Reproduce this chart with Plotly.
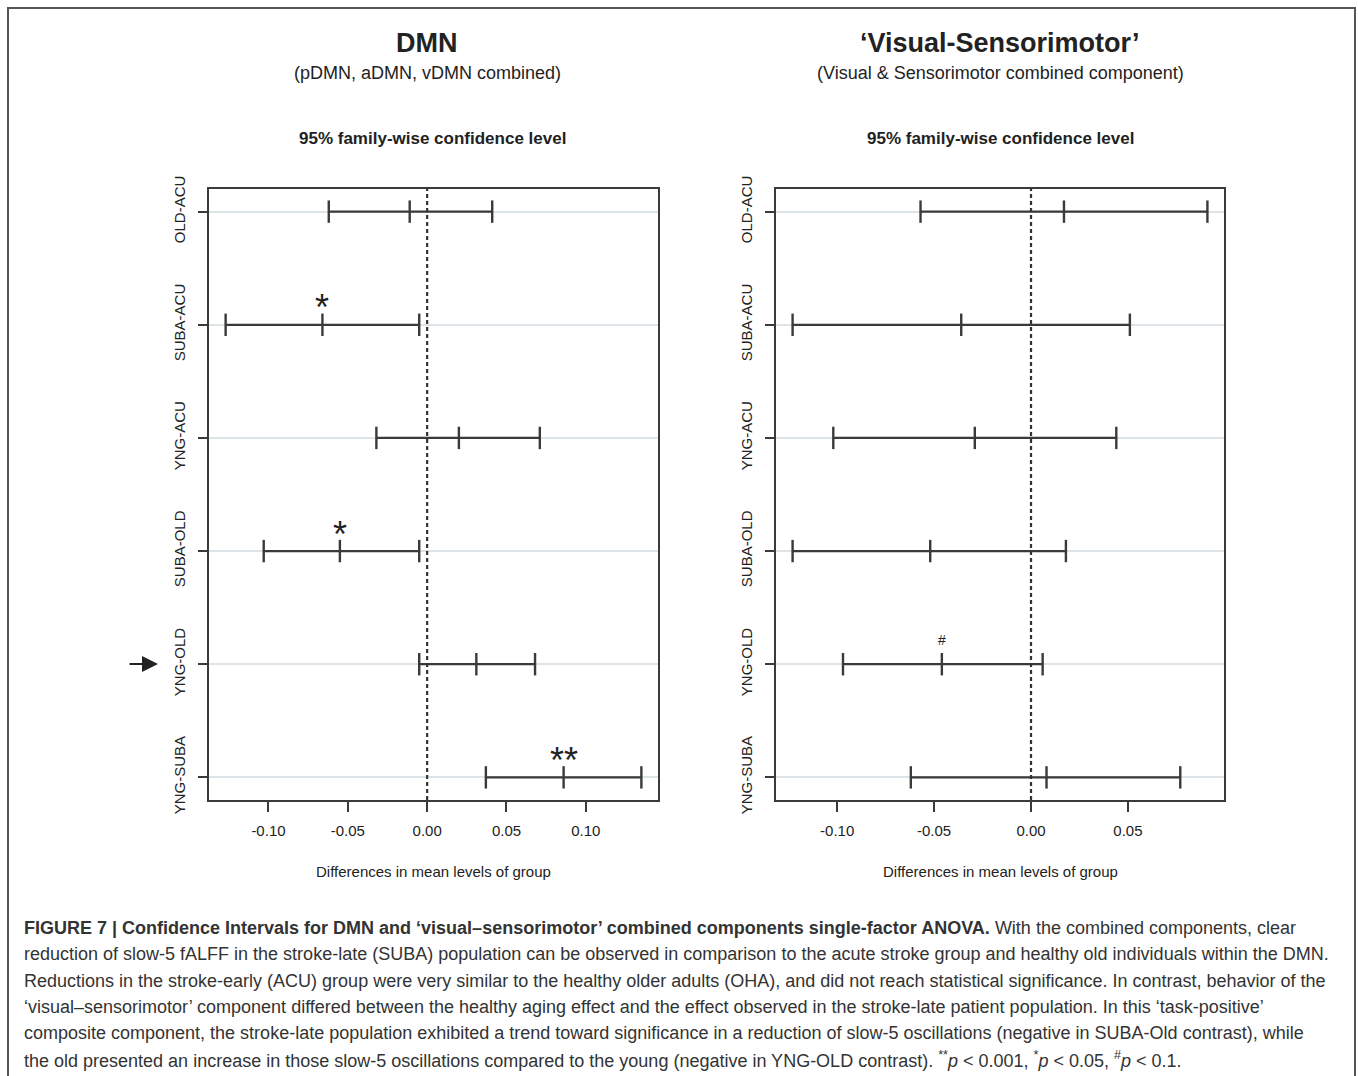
import plotly.graph_objects as go

# ---------------- data ----------------
comparisons = ["OLD-ACU", "SUBA-ACU", "YNG-ACU", "SUBA-OLD", "YNG-OLD", "YNG-SUBA"]

dmn_diff = [-0.011, -0.066, 0.020, -0.055, 0.031, 0.086]
dmn_lwr = [-0.062, -0.127, -0.032, -0.103, -0.005, 0.037]
dmn_upr = [0.041, -0.005, 0.071, -0.005, 0.068, 0.135]
dmn_sig = ["", "*", "", "*", "", "**"]

vs_diff = [0.017, -0.036, -0.029, -0.052, -0.046, 0.008]
vs_lwr = [-0.057, -0.123, -0.102, -0.123, -0.097, -0.062]
vs_upr = [0.091, 0.051, 0.044, 0.018, 0.006, 0.077]
vs_sig = ["", "", "", "", "#", ""]

dmn_ticks = [-0.10, -0.05, 0.00, 0.05, 0.10]
vs_ticks = [-0.10, -0.05, 0.00, 0.05]

panel_titles = ["DMN", "\u2018Visual-Sensorimotor\u2019"]
panel_subtitles = ["(pDMN, aDMN, vDMN combined)", "(Visual & Sensorimotor combined component)"]
plot_title = "95% family-wise confidence level"
x_title = "Differences in mean levels of group"

caption_lines = [
    "<b>FIGURE 7 | Confidence Intervals for DMN and \u2018visual\u2013sensorimotor\u2019 combined components single-factor ANOVA.</b> With the combined components, clear",
    "reduction of slow-5 fALFF in the stroke-late (SUBA) population can be observed in comparison to the acute stroke group and healthy old individuals within the DMN.",
    "Reductions in the stroke-early (ACU) group were very similar to the healthy older adults (OHA), and did not reach statistical significance. In contrast, behavior of the",
    "\u2018visual\u2013sensorimotor\u2019 component differed between the healthy aging effect and the effect observed in the stroke-late patient population. In this \u2018task-positive\u2019",
    "composite component, the stroke-late population exhibited a trend toward significance in a reduction of slow-5 oscillations (negative in SUBA-Old contrast), while",
    "the old presented an increase in those slow-5 oscillations compared to the young (negative in YNG-OLD contrast). <sup>**</sup><i>p</i> &lt; 0.001, <sup>*</sup><i>p</i> &lt; 0.05, <sup>#</sup><i>p</i> &lt; 0.1.",
]

# ---------------- geometry ----------------
W, H = 1358, 1076
def px(x):
    return x / W
def py(y):
    return 1 - y / H

INK = "#333333"
FONT = "Liberation Sans, Arial, sans-serif"

panels = [
    dict(diff=dmn_diff, lwr=dmn_lwr, upr=dmn_upr, sig=dmn_sig, ticks=dmn_ticks,
         dom=[px(209), px(658)], xa="x", ya="y", cx=427),
    dict(diff=vs_diff, lwr=vs_lwr, upr=vs_upr, sig=vs_sig, ticks=vs_ticks,
         dom=[px(776), px(1224)], xa="x2", ya="y2", cx=1000),
]

fig = go.Figure()
layout = dict(
    template="none", autosize=False,
    width=W, height=H, margin=dict(l=0, r=0, t=0, b=0, pad=0, autoexpand=False),
    paper_bgcolor="white", plot_bgcolor="white", showlegend=False,
    font=dict(family=FONT, color=INK),
)
annotations = []
shapes = []

ydom = [py(800), py(189)]
n = len(comparisons)

for i, p in enumerate(panels):
    xs, ys = [], []
    for c, lo, hi in zip(comparisons, p["lwr"], p["upr"]):
        xs += [lo, hi, None]
        ys += [c, c, None]
    fig.add_trace(go.Scatter(x=xs, y=ys, mode="lines", xaxis=p["xa"], yaxis=p["ya"],
                             line=dict(color="#3a3a3a", width=2.2), hoverinfo="skip"))
    fig.add_trace(go.Scatter(x=p["lwr"] + p["diff"] + p["upr"], y=comparisons * 3,
                             mode="markers", xaxis=p["xa"], yaxis=p["ya"],
                             marker=dict(symbol="line-ns", size=16,
                                         line=dict(color="#3a3a3a", width=2.4))))
    lo_all = min(p["lwr"]); hi_all = max(p["upr"])
    pad = 0.04 * (hi_all - lo_all)
    xkey = "xaxis" if i == 0 else "xaxis2"
    ykey = "yaxis" if i == 0 else "yaxis2"
    layout[xkey] = dict(
        domain=p["dom"], anchor=p["ya"], range=[lo_all - pad, hi_all + pad],
        tickvals=p["ticks"], ticktext=["%.2f" % t for t in p["ticks"]],
        ticks="outside", ticklen=10, tickwidth=2, tickcolor="#3a3a3a",
        showline=True, linecolor="#3a3a3a", linewidth=2, mirror=True,
        showgrid=False, zeroline=False, ticklabelstandoff=6, automargin=False,
        tickfont=dict(family=FONT, size=15, color="#222"),
    )
    layout[ykey] = dict(
        domain=ydom, anchor=p["xa"], type="category",
        categoryorder="array", categoryarray=comparisons,
        range=[n - 1 + 0.2, -0.2],
        ticks="outside", ticklen=9, tickwidth=2, tickcolor="#3a3a3a",
        showline=True, linecolor="#3a3a3a", linewidth=2, mirror=True,
        showgrid=True, gridcolor="#dde4e8", gridwidth=2, zeroline=False,
        tickangle=-90, ticklabelstandoff=7, automargin=False,
        tickfont=dict(family=FONT, size=15, color="#222"),
    )
    shapes.append(dict(type="line", xref=p["xa"], yref=p["ya"] + " domain",
                       x0=0, x1=0, y0=0, y1=1,
                       line=dict(color="#333", width=2.2, dash="4px,3px")))
    for c, d, s in zip(comparisons, p["diff"], p["sig"]):
        if s:
            big = s != "#"
            annotations.append(dict(x=d, y=c, xref=p["xa"], yref=p["ya"], text=s,
                                    showarrow=False, xanchor="center", yanchor="middle",
                                    yshift=17 if big else 24,
                                    font=dict(family=FONT, size=36 if big else 14, color="#222")))
    cx = p["cx"]
    annotations.append(dict(x=px(cx), y=py(43), xref="paper", yref="paper",
                            text="<b>%s</b>" % panel_titles[i], showarrow=False,
                            xanchor="center", yanchor="middle",
                            font=dict(family=FONT, size=27, color="#222")))
    annotations.append(dict(x=px(cx), y=py(73), xref="paper", yref="paper",
                            text=panel_subtitles[i], showarrow=False,
                            xanchor="center", yanchor="middle",
                            font=dict(family=FONT, size=18, color="#222")))
    annotations.append(dict(x=px(cx + (5 if i == 0 else 0)), y=py(138), xref="paper", yref="paper",
                            text="<b>%s</b>" % plot_title, showarrow=False,
                            xanchor="center", yanchor="middle",
                            font=dict(family=FONT, size=17, color="#222")))
    annotations.append(dict(x=(p["dom"][0] + p["dom"][1]) / 2, y=py(871), xref="paper", yref="paper",
                            text=x_title, showarrow=False,
                            xanchor="center", yanchor="middle",
                            font=dict(family=FONT, size=15, color="#222")))

annotations.append(dict(x=px(158), y=py(664), xref="paper", yref="paper", text="",
                        showarrow=True, ax=-30, ay=0, arrowhead=2, arrowsize=1.6,
                        arrowwidth=2, arrowcolor="#222"))

for k, line in enumerate(caption_lines):
    annotations.append(dict(x=px(22), y=py(928 + 26.3 * k), xref="paper", yref="paper",
                            text=line, showarrow=False, xanchor="left", yanchor="middle",
                            font=dict(family=FONT, size=18, color="#333")))

shapes.append(dict(type="rect", xref="paper", yref="paper",
                   x0=px(8), x1=px(1355), y0=-0.05, y1=py(8),
                   line=dict(color="#555", width=2)))

layout["annotations"] = annotations
layout["shapes"] = shapes
fig.update_layout(**layout)
fig.write_html("out.html")
